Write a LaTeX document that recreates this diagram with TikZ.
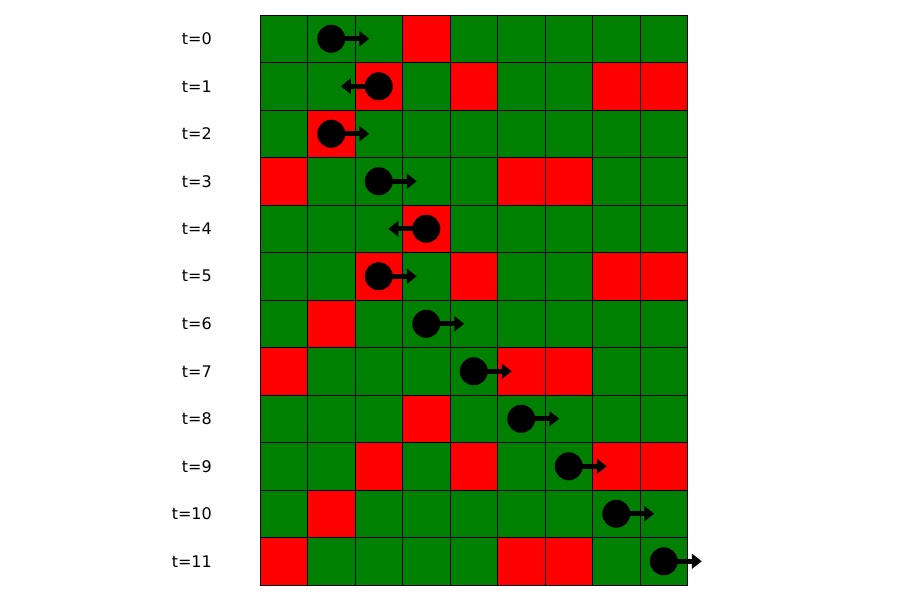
\documentclass[tikz,border=0pt]{standalone}
\usepackage{fontspec}
\setmainfont{DejaVu Sans}
\usetikzlibrary{arrows.meta}
\definecolor{gridgreen}{RGB}{0,128,0}
\definecolor{gridred}{RGB}{255,0,0}
\begin{document}
\begin{tikzpicture}[x=1pt,y=-1pt,
  cellbox/.style={draw=black,line width=1pt,minimum size=47.5pt,inner sep=0pt,outer sep=0pt},
  agent/.style={circle,fill=black,minimum size=28pt,inner sep=0pt},
  movearrow/.style={draw=black,line width=5pt,-{Triangle[length=10pt,width=15pt]}},
  tlabel/.style={anchor=east,inner sep=0pt,font=\fontsize{16}{19}\selectfont}]
\useasboundingbox (0,0) rectangle (900,600);
% grid
\foreach \r in {0,...,11}{
  \foreach \c in {0,...,8}{
    \node[cellbox,fill=gridgreen] (g\r-\c) at ({283.75+47.5*\c},{38.75+47.5*\r}) {};
  }
  \node[tlabel] (l\r) at (212,{38.75+47.5*\r}) {t=\r};
}
% red cells
\foreach \r/\c in {0/3,4/3,8/3,
  1/2,1/4,1/7,1/8,5/2,5/4,5/7,5/8,9/2,9/4,9/7,9/8,
  2/1,6/1,10/1,
  3/0,3/5,3/6,7/0,7/5,7/6,11/0,11/5,11/6}{
  \node[cellbox,fill=gridred] (r\r-\c) at ({283.75+47.5*\c},{38.75+47.5*\r}) {};
}
% agents
\foreach \r/\c/\d in {0/1/1,1/2/-1,2/1/1,3/2/1,4/3/-1,5/2/1,6/3/1,7/4/1,8/5/1,9/6/1,10/7/1,11/8/1}{
  \node[agent] (a\r) at ({283.75+47.5*\c},{38.75+47.5*\r}) {};
  \coordinate (h\r) at ([xshift={\d*38pt}]a\r.center);
  \draw[movearrow] (a\r.center) -- (h\r);
}
\end{tikzpicture}
\end{document}
